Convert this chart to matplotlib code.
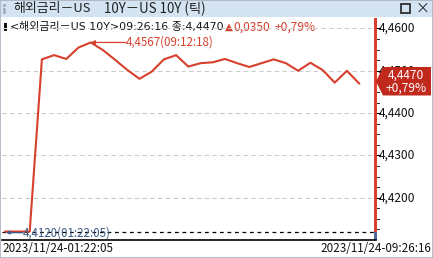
import matplotlib
matplotlib.use('Agg')
import matplotlib.pyplot as plt
from matplotlib.patches import Rectangle, Polygon

plt.rcParams['font.family'] = ['Noto Sans CJK KR', 'DejaVu Sans']

# tick series (index = tick sequence number)
ticks = list(range(-3, 27))
prices = [4.4120, 4.4120, 4.4120,
          4.4527, 4.4537, 4.4528, 4.4555, 4.4567, 4.4549, 4.4526, 4.4502,
          4.4481, 4.4498, 4.4527, 4.4537, 4.4510, 4.4518, 4.4520, 4.4528,
          4.4518, 4.4509, 4.4518, 4.4527, 4.4518, 4.4500, 4.4519, 4.4502,
          4.4472, 4.4500, 4.4470]
grid_levels = [4.46, 4.45, 4.44, 4.43, 4.42]
grid_labels = ['4,4600', '4,4500', '4,4400', '4,4300', '4,4200']
low_val, low_time = 4.4120, '01:22:05'
high_val, high_time = 4.4567, '09:12:18'
last_val, last_chg, last_pct = 4.4470, '0,0350', '+0,79%'
start_label = '2023/11/24-01:22:05'
end_label = '2023/11/24-09:26:16'

W, H = 433, 258
fig = plt.figure(figsize=(W / 100, H / 100), dpi=100)
fig.patch.set_facecolor('white')

red = '#d6402c'
fmt = lambda v: f'{v:.4f}'.replace('.', ',')

# background layer in pixel coords (origin top-left)
bg = fig.add_axes([0, 0, 1, 1])
bg.set_xlim(0, W)
bg.set_ylim(H, 0)
bg.axis('off')
bg.add_patch(Rectangle((0, 0), W, 17, color='#d3e3f1', lw=0))
bg.add_patch(Rectangle((0, 0), W, H, fill=False, ec='#a8b4c0', lw=1.2))
for yy in (5, 8.5, 12):
    bg.plot([3.5], [yy], marker='s', ms=1, color='#9aa8b6')
bg.text(13, 8.5, '해외금리－US', fontsize=9.3, va='center', color='#222222')
bg.text(104, 8.5, '10Y－US 10Y (틱)', fontsize=9.6, va='center', color='#222222')
bg.add_patch(Rectangle((401, 4), 9, 9, fill=False, ec='#222222', lw=1.2))
bg.text(422, 8.5, '×', fontsize=10, ha='center', va='center', color='#222222')

# main price axes: pixel box x 2..375, y 18..240
x0, x1, y0, y1 = 2, 375, 18, 240
vtop, vbot = 4.46248, 4.4100
ax = fig.add_axes([x0 / W, 1 - y1 / H, (x1 - x0) / W, (y1 - y0) / H])
ax.set_xlim(-3.27, 27.3)
ax.set_ylim(vbot, vtop)
ax.axis('off')

for g in grid_levels:
    ax.axhline(g, color='#cccccc', lw=0.8, ls=(0, (4, 3)), zorder=1)
ax.axhline(low_val, color='black', lw=0.9, ls=(0, (3, 3)), zorder=2)

ax.plot(ticks, prices, color=red, lw=1.5, zorder=3)

# high / low annotations
hi_i = ticks[prices.index(high_val)]
ax.annotate('', xy=(hi_i, high_val), xytext=(hi_i + 2.9, high_val),
            arrowprops=dict(arrowstyle='-|>', color=red, lw=0.9,
                            mutation_scale=6, shrinkA=0, shrinkB=0))
ax.text(hi_i + 2.9, high_val, '%s(%s)' % (fmt(high_val), high_time),
        fontsize=8.3, color=red, va='center', ha='left')
ax.annotate('', xy=(ticks[0] + 0.05, low_val - 0.00025), xytext=(ticks[0] + 1.45, low_val - 0.00025),
            arrowprops=dict(arrowstyle='-|>', color='#3b5a86', lw=0.9,
                            mutation_scale=5, shrinkA=0, shrinkB=0))
ax.text(ticks[0] + 1.45, low_val - 0.00025, '%s(%s)' % (fmt(low_val), low_time),
        fontsize=8.3, color='#3b5a86', va='center', ha='left')

# info line
bg.add_patch(Rectangle((4, 23), 3, 8, color='#111111', lw=0))
bg.text(10, 27, '<해외금리－US 10Y>09:26:16 종:%s' % fmt(last_val),
        fontsize=7.9, va='center', color='#111111', family=['DejaVu Sans', 'Noto Sans CJK KR'])
bg.text(225, 27, '▲', fontsize=7.5, va='center', color=red, family=['DejaVu Sans'])
bg.text(233, 27, last_chg, fontsize=8.6, va='center', color=red)
bg.text(275, 27, last_pct, fontsize=8.6, va='center', color=red)

# right price scale
def ypix(v):
    return y0 + (vtop - v) / (vtop - vbot) * (y1 - y0)

bg.add_patch(Rectangle((374, y0), 3, ypix(low_val) - y0, color=red, lw=0))
bg.add_patch(Rectangle((374, ypix(low_val)), 3, y1 - ypix(low_val), color='#4a6a9a', lw=0))
for g, lab in zip(grid_levels, grid_labels):
    yy = ypix(g)
    bg.plot([377, 380], [yy, yy], color='black', lw=0.8)
    bg.text(379, yy, lab, fontsize=8.6, va='center', ha='left', color='#111111', zorder=1)
    for m in (0.0025, 0.005, 0.0075):
        ym = ypix(g - m)
        if ym < y1 - 8:
            bg.plot([377, 378.5], [ym, ym], color='black', lw=0.6)

# last price flag
yl = ypix(last_val) - 2
bg.add_patch(Polygon([(383, yl - 14.5), (431, yl - 14.5), (431, yl + 14),
                      (383, yl + 14), (376, yl)], closed=True, color='#c2291d', lw=0, zorder=3))
bg.text(406, yl - 6, fmt(last_val), fontsize=8.6, color='white', ha='center', va='center', zorder=4)
bg.text(406, yl + 7, last_pct, fontsize=8.6, color='white', ha='center', va='center', zorder=4)

# bottom time axis
bg.plot([2, 376], [240, 240], color='black', lw=1.2)
bg.text(2, 248.5, start_label, fontsize=8.4, va='center', ha='left', color='#111111')
bg.text(431, 248.5, end_label, fontsize=8.4, va='center', ha='right', color='#111111')

fig.savefig('out.png', dpi=100)
